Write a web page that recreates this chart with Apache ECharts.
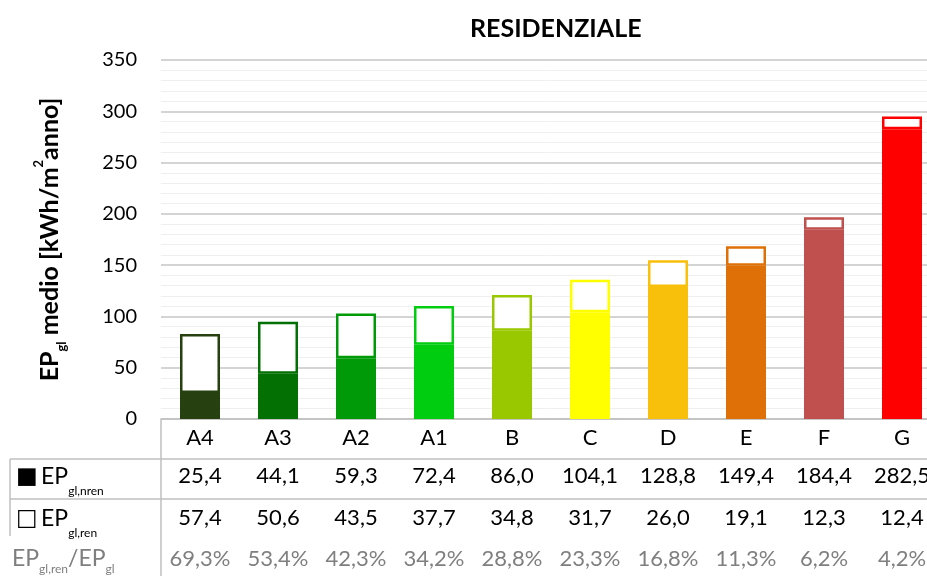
<!DOCTYPE html>
<html>
<head>
<meta charset="utf-8">
<script src="https://cdn.jsdelivr.net/npm/echarts@6/dist/echarts.min.js"></script>
<style>
  html, body { margin: 0; padding: 0; background: #fff; }
  #chart { width: 927px; height: 576px; }
</style>
</head>
<body>
<div id="chart"></div>
<script>
// classi energetiche e valori
var categories = ['A4', 'A3', 'A2', 'A1', 'B', 'C', 'D', 'E', 'F', 'G'];
var epNren = [25.4, 44.1, 59.3, 72.4, 86.0, 104.1, 128.8, 149.4, 184.4, 282.5];
var epRen = [57.4, 50.6, 43.5, 37.7, 34.8, 31.7, 26.0, 19.1, 12.3, 12.4];
var renRatio = [69.3, 53.4, 42.3, 34.2, 28.8, 23.3, 16.8, 11.3, 6.2, 4.2];
var classColors = ['#264010', '#037003', '#009a08', '#00cc10', '#99c800', '#ffff00', '#f9c00b', '#df7007', '#c0504d', '#ff0000'];

var FONT = 'Lato';

function fmt(v) {
  return v.toFixed(1).replace('.', ',');
}

// righe della tabella dati sotto il grafico
function tableAxis(data, offset, color) {
  return {
    type: 'category',
    data: data,
    position: 'bottom',
    offset: offset,
    axisLine: { show: false },
    axisTick: { show: false },
    axisLabel: { interval: 0, margin: 8, fontSize: 22, fontFamily: FONT, color: color }
  };
}

var subRich = {
  m: { fontSize: 23, fontFamily: FONT, lineHeight: 40 },
  s: { fontSize: 12, fontFamily: FONT, lineHeight: 12, verticalAlign: 'bottom' },
  q: { fontSize: 23, fontFamily: 'DejaVu Sans', lineHeight: 40 }
};
var ratioRich = {
  m: { fontSize: 23, fontFamily: FONT, lineHeight: 32 },
  s: { fontSize: 12, fontFamily: FONT, lineHeight: 12, verticalAlign: 'bottom' }
};

var chart = echarts.init(document.getElementById('chart'));
chart.setOption({
  animation: false,
  title: {
    text: 'RESIDENZIALE',
    left: 465,
    top: 11,
    textStyle: { fontFamily: FONT, fontWeight: 'bold', fontSize: 25, color: '#000' }
  },
  grid: {
    left: 161,
    right: -14,
    top: 60,
    bottom: 157,
    containLabel: false,
    outerBoundsMode: 'none'
  },
  xAxis: [
    {
      type: 'category',
      data: categories,
      axisLine: { lineStyle: { color: '#bfbfbf', width: 1.5 } },
      axisTick: { show: false },
      axisLabel: { interval: 0, margin: 8, fontSize: 22, fontFamily: FONT, color: '#000' }
    },
    tableAxis(epNren.map(fmt), 38, '#000'),
    tableAxis(epRen.map(fmt), 80, '#000'),
    tableAxis(renRatio.map(function (v) { return fmt(v) + '%'; }), 121, '#7f7f7f')
  ],
  yAxis: {
    type: 'value',
    min: 0,
    max: 350,
    interval: 50,
    name: '{b|EP}{s|gl}{b| medio [kWh/m}{p|2}{b|anno]}',
    nameLocation: 'middle',
    nameRotate: 90,
    nameGap: 93,
    nameTextStyle: {
      rich: {
        b: { fontSize: 25, fontWeight: 'bold', fontFamily: FONT, color: '#000', lineHeight: 36 },
        s: { fontSize: 13, fontWeight: 'bold', fontFamily: FONT, color: '#000', lineHeight: 14, verticalAlign: 'bottom' },
        p: { fontSize: 13, fontWeight: 'bold', fontFamily: FONT, color: '#000', lineHeight: 28, verticalAlign: 'top' }
      }
    },
    axisLine: { show: false },
    axisTick: { show: false },
    axisLabel: { margin: 24, fontSize: 20, fontFamily: FONT, color: '#000' },
    splitLine: { lineStyle: { color: '#d4d4d4', width: 2 } },
    minorTick: { show: false, splitNumber: 5 },
    minorSplitLine: { show: true, lineStyle: { color: '#efefef', width: 1 } }
  },
  series: [
    {
      name: 'EP gl,nren',
      type: 'bar',
      stack: 'ep',
      barWidth: 40,
      data: epNren.map(function (v, i) {
        return { value: v, itemStyle: { color: classColors[i] } };
      })
    },
    {
      name: 'EP gl,ren',
      type: 'bar',
      stack: 'ep',
      barWidth: 40,
      data: epRen.map(function (v, i) {
        return { value: v, itemStyle: { color: '#fff', borderColor: classColors[i], borderWidth: 2.5 } };
      })
    }
  ],
  graphic: [
    // linee della tabella
    { type: 'line', shape: { x1: 161, y1: 419, x2: 161, y2: 576 }, style: { stroke: '#bfbfbf', lineWidth: 1.5 } },
    { type: 'line', shape: { x1: 10, y1: 459, x2: 927, y2: 459 }, style: { stroke: '#bfbfbf', lineWidth: 1.5 } },
    { type: 'line', shape: { x1: 10, y1: 499, x2: 927, y2: 499 }, style: { stroke: '#bfbfbf', lineWidth: 1.5 } },
    { type: 'line', shape: { x1: 10, y1: 459, x2: 10, y2: 536 }, style: { stroke: '#bfbfbf', lineWidth: 1.5 } },
    // etichette delle righe
    {
      type: 'text', x: 16, y: 477,
      style: { text: '{q|■} {m|EP}{s|gl,nren}', verticalAlign: 'middle', fill: '#000', rich: subRich }
    },
    {
      type: 'text', x: 16, y: 519,
      style: { text: '{q|□} {m|EP}{s|gl,ren}', verticalAlign: 'middle', fill: '#000', rich: subRich }
    },
    {
      type: 'text', x: 12, y: 559,
      style: { text: '{m|EP}{s|gl,ren}{m|/EP}{s|gl}', verticalAlign: 'middle', fill: '#7f7f7f', rich: ratioRich }
    }
  ]
});
</script>
</body>
</html>
